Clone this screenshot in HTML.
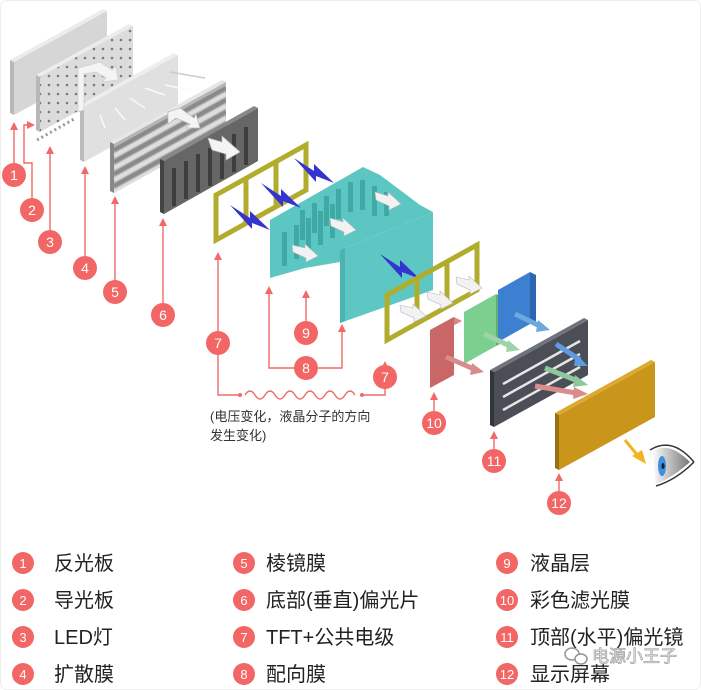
<!DOCTYPE html>
<html><head><meta charset="utf-8"><style>
html,body{margin:0;padding:0;background:#fff;}
svg{display:block;font-family:"Liberation Sans","Noto Sans CJK SC",sans-serif;}
</style></head><body>
<svg width="701" height="690" viewBox="0 0 701 690" xmlns="http://www.w3.org/2000/svg">
<defs>
<marker id="ah" markerWidth="8" markerHeight="8" refX="4" refY="4" orient="auto" markerUnits="userSpaceOnUse">
<path d="M0,0 L8,4 L0,8 Z" fill="#f06a6a"/></marker>
<clipPath id="pc"><polygon points="114,144 226,82 226,131 114,193"/></clipPath>
<pattern id="dots" width="9" height="9" patternUnits="userSpaceOnUse"><circle cx="4" cy="4" r="1.3" fill="#7a7a7a"/></pattern>
<linearGradient id="eye" x1="0" x2="1"><stop offset="0" stop-color="#fff"/><stop offset="1" stop-color="#777"/></linearGradient>
</defs>
<rect x="0.5" y="0.5" width="700" height="689" rx="6" fill="#fff" stroke="#eee"/>

<polygon points="10,60 103,9 107,11 14,62" fill="#ececec"/>
<polygon points="10,60 14,62 14,115 10,113" fill="#b8b8b8"/>
<polygon points="14,62 107,11 107,64 14,115" fill="#d6d6d6"/>
<polygon points="36,75 129,24 133,26 40,77" fill="#ececec"/>
<polygon points="36,75 40,77 40,132 36,130" fill="#b8b8b8"/>
<polygon points="40,77 133,26 133,81 40,132" fill="#dcdcdc"/>
<polygon points="40,77 133,26 133,81 40,132" fill="url(#dots)"/>
<line x1="37" y1="140" x2="76" y2="118" stroke="#999" stroke-width="3" stroke-dasharray="2,3"/>
<polygon points="80,105 174,53 178,55 84,107" fill="#eeeeee"/>
<polygon points="80,105 84,107 84,162 80,160" fill="#bbbbbb"/>
<polygon points="84,107 178,55 178,110 84,162" fill="#e0e0e0"/>
<g stroke="#fafafa" stroke-width="1.5"><line x1="100" y1="115" x2="105" y2="128"/><line x1="115" y1="108" x2="125" y2="120"/><line x1="130" y1="98" x2="145" y2="108"/><line x1="145" y1="88" x2="165" y2="95"/><line x1="170" y1="72" x2="205" y2="78" stroke="#ccc"/><line x1="165" y1="85" x2="190" y2="90"/></g>
<polygon points="78,68 100,62 112,70 116,66 118,80 102,82 106,78 96,72 84,74 84,110 78,112" fill="#f4f4f4" stroke="#ccc" stroke-width="0.7"/>
<polygon points="110,142 222,80 226,82 114,144" fill="#e6e6e6"/>
<polygon points="110,142 114,144 114,193 110,191" fill="#888"/>
<polygon points="114,144 226,82 226,131 114,193" fill="#b5b5b5"/>
<g clip-path="url(#pc)" stroke-width="4">
<line x1="114" y1="150" x2="226" y2="88" stroke="#8a8a8a"/><line x1="114" y1="156" x2="226" y2="94" stroke="#dedede"/>
<line x1="114" y1="162" x2="226" y2="100" stroke="#8a8a8a"/><line x1="114" y1="168" x2="226" y2="106" stroke="#dedede"/>
<line x1="114" y1="174" x2="226" y2="112" stroke="#8a8a8a"/><line x1="114" y1="180" x2="226" y2="118" stroke="#dedede"/>
<line x1="114" y1="186" x2="226" y2="124" stroke="#8a8a8a"/><line x1="114" y1="192" x2="226" y2="130" stroke="#dedede"/>
</g>
<polygon points="168,112 180,108 194,118 196,114 200,128 186,128 190,124 176,118 168,124" fill="#f4f4f4" stroke="#bbb" stroke-width="0.7"/>
<polygon points="160,159 254,106 258,108 164,161" fill="#888"/>
<polygon points="160,159 164,161 164,214 160,212" fill="#444"/>
<polygon points="164,161 258,108 258,161 164,214" fill="#666"/>
<g fill="#3e3e3e"><rect x="172" y="168" width="4" height="38"/><rect x="184" y="161" width="4" height="38"/><rect x="196" y="154" width="4" height="38"/><rect x="208" y="148" width="4" height="38"/><rect x="220" y="141" width="4" height="38"/><rect x="232" y="134" width="4" height="38"/><rect x="244" y="127" width="4" height="38"/></g>
<polygon points="208,138 222,142 222,136 240,152 226,160 226,154 212,150" fill="#f4f4f4" stroke="#bbb" stroke-width="0.7"/>
<g fill="none" stroke="#b2ac2c" stroke-width="5"><polygon points="216,195 306,145 306,190 216,240"/><line x1="246" y1="178" x2="246" y2="223"/><line x1="276" y1="162" x2="276" y2="207"/></g>
<polygon points="270,220 363,167 380,175 400,190 420,205 433,212 340,250 340,262 305,268 270,278" fill="#5cc6c2"/>
<g fill="#3fa9a6"><rect x="282" y="232" width="5" height="34"/><rect x="294" y="225" width="5" height="34"/><rect x="306" y="218" width="5" height="34"/><rect x="318" y="211" width="5" height="34"/><rect x="330" y="204" width="5" height="34"/><rect x="300" y="210" width="5" height="30"/><rect x="312" y="203" width="5" height="30"/><rect x="324" y="196" width="5" height="30"/><rect x="336" y="189" width="5" height="30"/><rect x="348" y="182" width="5" height="30"/><rect x="360" y="180" width="5" height="30"/><rect x="372" y="186" width="5" height="30"/><rect x="384" y="192" width="5" height="24"/></g>
<polygon points="340,250 433,212 433,290 340,323" fill="#5ec7c3"/>
<polygon points="340,250 345,248 345,321 340,323" fill="#4bb3b0"/>
<g fill="#f2f2f2" stroke="#bbb" stroke-width="0.6"><polygon points="292,245 305,248 305,244 318,256 306,262 306,258 293,252"/><polygon points="330,218 343,222 343,218 356,230 344,236 344,232 331,226"/><polygon points="375,192 388,196 388,192 401,204 389,210 389,206 376,200"/></g>
<g fill="#3434d0"><polygon points="230,205 250,218 250,211 270,230 252,223 252,229"/><polygon points="261,183 281,196 281,189 301,208 283,201 283,207"/><polygon points="294,158 314,171 314,164 334,183 316,176 316,182"/><polygon points="380,254 400,267 400,260 420,279 402,272 402,278"/></g>
<g fill="none" stroke="#b2ac2c" stroke-width="5"><polygon points="387,295 477,245 477,290 387,340"/><line x1="417" y1="278" x2="417" y2="323"/><line x1="447" y1="262" x2="447" y2="307"/></g>
<g fill="#f2f2f2" stroke="#bbb" stroke-width="0.6"><polygon points="400,305 413,308 413,304 426,316 414,322 414,318 401,312"/><polygon points="427,292 440,295 440,291 453,303 441,309 441,305 428,299"/><polygon points="456,277 469,280 469,276 482,288 470,294 470,290 457,284"/></g>
<polygon points="430,330 454,317 462,321 438,334" fill="#d98585"/>
<polygon points="430,330 454,317 454,375 430,388" fill="#c96767"/>
<polygon points="464,312 496,294 496,346 464,364" fill="#7dcf8f"/>
<polygon points="496,294 502,297 502,343 496,346" fill="#5fb072"/>
<polygon points="498,290 530,272 530,324 498,342" fill="#3d7fd0"/>
<polygon points="530,272 536,275 536,321 530,324" fill="#2e67b0"/>
<polygon points="490,370 584,318 588,320 494,372" fill="#70737c"/>
<polygon points="490,370 494,372 494,427 490,425" fill="#33353d"/>
<polygon points="494,372 588,320 588,375 494,427" fill="#4b4e57"/>
<g stroke="#e6e6e6" stroke-width="2.5"><line x1="503" y1="384" x2="580" y2="341"/><line x1="503" y1="397" x2="580" y2="354"/><line x1="503" y1="410" x2="580" y2="367"/></g>
<g stroke-width="5">
<line x1="446" y1="357" x2="474" y2="369" stroke="#d98c8c"/><line x1="484" y1="334" x2="510" y2="346" stroke="#9ed3a5"/><line x1="515" y1="314" x2="540" y2="326" stroke="#6ea6e0"/>
<line x1="556" y1="344" x2="580" y2="360" stroke="#5f9be0"/><line x1="545" y1="368" x2="578" y2="381" stroke="#8dc89a"/><line x1="535" y1="386" x2="576" y2="393" stroke="#d98c8c"/></g>
<g><polygon points="472,363 484,372 470,375" fill="#d98c8c"/><polygon points="508,340 520,350 506,352" fill="#9ed3a5"/><polygon points="538,320 550,330 536,332" fill="#6ea6e0"/><polygon points="576,354 588,366 574,366" fill="#5f9be0"/><polygon points="575,375 588,385 573,387" fill="#8dc89a"/><polygon points="574,387 588,394 573,399" fill="#d98c8c"/></g>
<polygon points="555,413 651,360 655,362 559,415" fill="#dcaa30"/>
<polygon points="555,413 559,415 559,470 555,468" fill="#9a700f"/>
<polygon points="559,415 655,362 655,417 559,470" fill="#c9961b"/>
<line x1="625" y1="440" x2="638" y2="456" stroke="#f3b422" stroke-width="3"/>
<polygon points="632,456 646,464 642,450" fill="#f3b422"/>
<path d="M652,452 Q668,440 690,462 Q672,478 656,484 Z" fill="url(#eye)"/>
<path d="M650,450 Q672,436 694,462" fill="none" stroke="#333" stroke-width="1.5"/>
<path d="M656,486 Q676,480 694,462" fill="none" stroke="#333" stroke-width="1.5"/>
<ellipse cx="662" cy="466" rx="4" ry="10" fill="#3d8fe0"/>
<ellipse cx="663" cy="466" rx="1.6" ry="3" fill="#123"/>

<g stroke="#f06a6a" stroke-width="1.4" fill="none">
<line x1="14" y1="163" x2="14" y2="126" marker-end="url(#ah)"/>
<polyline points="32,198 32,163 24,163 24,125 31,125" marker-end="url(#ah)"/>
<line x1="50" y1="230" x2="50" y2="150" marker-end="url(#ah)"/>
<line x1="85" y1="256" x2="85" y2="170" marker-end="url(#ah)"/>
<line x1="115" y1="280" x2="115" y2="200" marker-end="url(#ah)"/>
<line x1="163" y1="303" x2="163" y2="222" marker-end="url(#ah)"/>
<line x1="218" y1="331" x2="218" y2="256" marker-end="url(#ah)"/>
<polyline points="294,368 269,368 269,290" marker-end="url(#ah)"/>
<polyline points="318,368 342,368 342,328" marker-end="url(#ah)"/>
<line x1="306" y1="321" x2="306" y2="294" marker-end="url(#ah)"/>
<polyline points="218,355 218,395 240,395"/>
<path d="M245,395 q5,-8 10,0 t10,0 t10,0 t10,0 t10,0 t10,0 t10,0 t10,0 t10,0 t10,0 t10,0"/>
<polyline points="362,395 385,395 385,365" marker-end="url(#ah)"/>
<line x1="434" y1="411" x2="434" y2="396" marker-end="url(#ah)"/>
<line x1="494" y1="449" x2="494" y2="435" marker-end="url(#ah)"/>
<line x1="559" y1="491" x2="559" y2="477" marker-end="url(#ah)"/>
</g>
<circle cx="240" cy="395" r="2" fill="#f06a6a"/><circle cx="362" cy="395" r="2" fill="#f06a6a"/>
<text x="210" y="421" font-size="13" fill="#333">(电压变化，液晶分子的方向</text>
<text x="210" y="440" font-size="13" fill="#333">发生变化)</text>

<g fill="#f26666">
<circle cx="14" cy="175" r="12"/><circle cx="32" cy="210" r="12"/><circle cx="50" cy="242" r="12"/><circle cx="85" cy="268" r="12"/><circle cx="115" cy="292" r="12"/><circle cx="163" cy="315" r="12"/><circle cx="218" cy="343" r="12"/><circle cx="306" cy="333" r="12"/><circle cx="306" cy="368" r="12"/><circle cx="385" cy="377" r="12"/><circle cx="434" cy="423" r="12"/><circle cx="494" cy="461" r="12"/><circle cx="559" cy="503" r="12"/>
</g>
<g fill="#fff" font-size="14" text-anchor="middle">
<text x="14" y="180">1</text><text x="32" y="215">2</text><text x="50" y="247">3</text><text x="85" y="273">4</text><text x="115" y="297">5</text><text x="163" y="320">6</text><text x="218" y="348">7</text><text x="306" y="338">9</text><text x="306" y="373">8</text><text x="385" y="382">7</text><text x="434" y="428">10</text><text x="494" y="466">11</text><text x="559" y="508">12</text>
</g>

<g fill="#f26666">
<circle cx="23" cy="563" r="11"/><circle cx="23" cy="600" r="11"/><circle cx="23" cy="637" r="11"/><circle cx="23" cy="674" r="11"/>
<circle cx="244" cy="563" r="11"/><circle cx="244" cy="600" r="11"/><circle cx="244" cy="637" r="11"/><circle cx="244" cy="674" r="11"/>
<circle cx="507" cy="563" r="11"/><circle cx="507" cy="600" r="11"/><circle cx="507" cy="637" r="11"/><circle cx="507" cy="674" r="11"/>
</g>
<g fill="#fff" font-size="13" text-anchor="middle">
<text x="23" y="568">1</text><text x="23" y="605">2</text><text x="23" y="642">3</text><text x="23" y="679">4</text>
<text x="244" y="568">5</text><text x="244" y="605">6</text><text x="244" y="642">7</text><text x="244" y="679">8</text>
<text x="507" y="568">9</text><text x="507" y="605">10</text><text x="507" y="642">11</text><text x="507" y="679">12</text>
</g>
<g fill="#222" font-size="20">
<text x="54" y="570">反光板</text><text x="54" y="607">导光板</text><text x="54" y="644">LED灯</text><text x="54" y="681">扩散膜</text>
<text x="266" y="570">棱镜膜</text><text x="266" y="607">底部(垂直)偏光片</text><text x="266" y="644">TFT+公共电级</text><text x="266" y="681">配向膜</text>
<text x="530" y="570">液晶层</text><text x="530" y="607">彩色滤光膜</text><text x="530" y="644">顶部(水平)偏光镜</text><text x="530" y="681">显示屏幕</text>
</g>
<g fill="#fff" stroke="#888" stroke-width="1.5" opacity="0.9"><ellipse cx="572" cy="654" rx="7" ry="6"/><ellipse cx="581" cy="659" rx="6" ry="5"/></g>
<text x="592" y="662" font-size="17" fill="#fff" stroke="#999" stroke-width="0.8" opacity="0.9">电源小王子</text>
</svg>
</body></html>
